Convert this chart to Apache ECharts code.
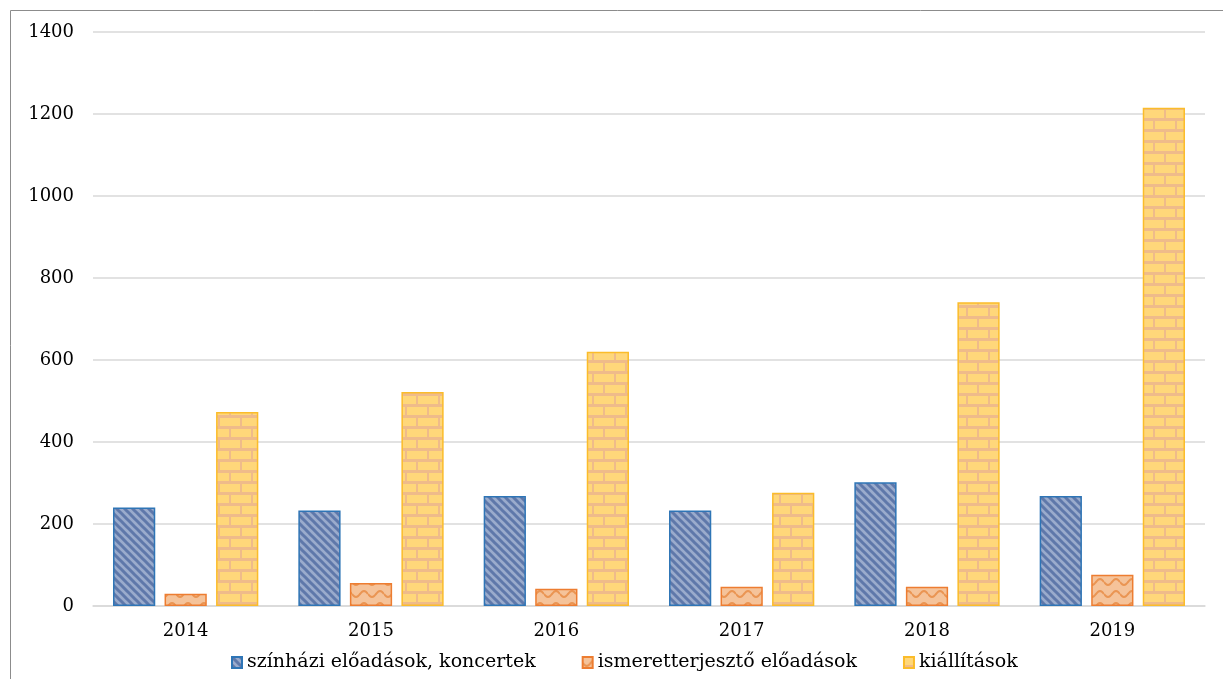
<!DOCTYPE html>
<html><head><meta charset="utf-8">
<script src="https://cdn.jsdelivr.net/npm/echarts@6/dist/echarts.min.js"></script>
<style>html,body{margin:0;padding:0;background:#fff}#c{width:1223px;height:679px}</style>
</head><body><div id="c"></div>
<script>
const categories = ['2014','2015','2016','2017','2018','2019'];
const seriesNames = ['színházi előadások, koncertek','ismeretterjesztő előadások','kiállítások'];
const theatre = [240, 233, 268, 233, 302, 268];
const lectures = [30, 56, 42, 47, 47, 76];
const exhibitions = [473, 522, 620, 276, 741, 1215];
const yTicks = [0, 200, 400, 600, 800, 1000, 1200, 1400];

function stripePattern(){
  const c = document.createElement('canvas'); c.width = 8; c.height = 8;
  const g = c.getContext('2d');
  g.fillStyle = '#9aabcc'; g.fillRect(0,0,8,8);
  g.strokeStyle = '#5f78aa'; g.lineWidth = 3;
  g.beginPath();
  g.moveTo(-2,-2); g.lineTo(10,10);
  g.moveTo(-10,-2); g.lineTo(2,10);
  g.moveTo(6,-2); g.lineTo(18,10);
  g.stroke();
  return c;
}
function wavePattern(){
  const c = document.createElement('canvas'); c.width = 16; c.height = 12;
  const g = c.getContext('2d');
  g.fillStyle = '#f5c39a'; g.fillRect(0,0,16,12);
  g.strokeStyle = '#ea9553'; g.lineWidth = 2;
  g.beginPath();
  for (let x = 0; x <= 16; x++) {
    const y = 6 + 3 * Math.sin(x / 16 * Math.PI * 2);
    if (x === 0) g.moveTo(x, y); else g.lineTo(x, y);
  }
  g.stroke();
  return c;
}
function brickPattern(){
  const w = 22, h = 22;
  const c = document.createElement('canvas'); c.width = w; c.height = h;
  const g = c.getContext('2d');
  g.fillStyle = '#efbb8a'; g.fillRect(0,0,w,h);
  g.fillStyle = '#ffd77a';
  g.fillRect(0,0,20,8);
  g.fillRect(0,11,9,8); g.fillRect(11,11,11,8);
  return c;
}

const chart = echarts.init(document.getElementById('c'));
const font = 'DejaVu Serif';
chart.setOption({
  animation: false,
  textStyle: { fontFamily: font },
  graphic: [{ type: 'rect', shape: { x: 10.5, y: 10.5, width: 1230, height: 700 },
    style: { fill: 'none', stroke: '#8c8c8c', lineWidth: 1 }, silent: true }],
  grid: { left: 93, right: 18, top: 32, bottom: 73 },
  legend: {
    bottom: 2, left: 226, itemWidth: 10, itemHeight: 11, itemGap: 46,
    icon: 'rect',
    textStyle: { fontFamily: font, fontSize: 19, color: '#000' },
    data: seriesNames
  },
  xAxis: {
    type: 'category', data: categories,
    axisLine: { show: true, lineStyle: { color: '#d9d9d9', width: 1.5 } },
    axisTick: { show: false },
    axisLabel: { color: '#000', fontSize: 18, fontFamily: font, margin: 16 }
  },
  yAxis: {
    type: 'value', min: yTicks[0], max: yTicks[yTicks.length-1], interval: 200,
    axisLine: { show: false }, axisTick: { show: false },
    splitLine: { lineStyle: { color: '#d9d9d9', width: 1.5 } },
    axisLabel: { color: '#000', fontSize: 18, fontFamily: font, margin: 19, formatter: v => String(v) }
  },
  series: [
    { name: seriesNames[0], type: 'bar', data: theatre, barGap: '22%', barCategoryGap: '21.6%',
      itemStyle: { color: { image: stripePattern(), repeat: 'repeat' }, borderColor: '#2e75b6', borderWidth: 1.5 } },
    { name: seriesNames[1], type: 'bar', data: lectures,
      itemStyle: { color: { image: wavePattern(), repeat: 'repeat' }, borderColor: '#ed7d31', borderWidth: 1.5 } },
    { name: seriesNames[2], type: 'bar', data: exhibitions,
      itemStyle: { color: { image: brickPattern(), repeat: 'repeat' }, borderColor: '#fbbc2a', borderWidth: 1.5 } }
  ]
});
</script></body></html>
